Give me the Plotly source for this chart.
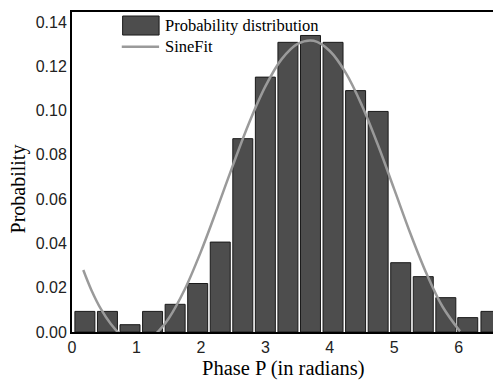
import plotly.graph_objects as go

# Histogram of phase (bin centres in radians) and probabilities
phase_bins = [0.20, 0.55, 0.90, 1.25, 1.60, 1.95, 2.30, 2.65, 3.00, 3.35,
              3.70, 4.05, 4.40, 4.75, 5.10, 5.45, 5.80, 6.14, 6.50]
probability = [0.0093, 0.0093, 0.0033, 0.0093, 0.0125, 0.0219, 0.0406, 0.0873,
               0.1151, 0.1308, 0.1339, 0.1308, 0.1090, 0.0996, 0.0313, 0.0250,
               0.0155, 0.0065, 0.0093]

# Sine fit curve
fit_x = [0.175, 0.3, 0.45, 0.6, 0.75, 0.9, 1.05, 1.2, 1.35, 1.5, 1.75, 2.0,
         2.25, 2.5, 2.75, 3.0, 3.25, 3.5, 3.75, 4.0, 4.25, 4.5, 4.75, 5.0,
         5.25, 5.5, 5.75, 6.02]
fit_y = [0.0280, 0.0190, 0.0103, 0.0037, -0.0011, -0.0038, -0.0045, -0.0029,
         0.0006, 0.0061, 0.0193, 0.0363, 0.0556, 0.0756, 0.0946, 0.1109,
         0.1231, 0.1301, 0.1315, 0.1269, 0.1169, 0.1022, 0.0842, 0.0644,
         0.0445, 0.0264, 0.0114, 0.0003]

y_ticks = [0.00, 0.02, 0.04, 0.06, 0.08, 0.10, 0.12, 0.14]
x_ticks = [0, 1, 2, 3, 4, 5, 6]

serif = "Liberation Serif, Times New Roman, serif"
sans = "Liberation Sans, Arial, sans-serif"

fig = go.Figure()
fig.add_trace(go.Bar(
    x=phase_bins, y=probability, width=0.31,
    marker=dict(color="#4d4d4d", line=dict(color="#1a1a1a", width=1)),
    name="Probability distribution", showlegend=False,
))
fig.add_trace(go.Scatter(
    x=fit_x, y=fit_y, mode="lines", line=dict(color="#9a9a9a", width=2.5, shape="spline"),
    name="SineFit", showlegend=False,
))

# custom legend
fig.add_shape(type="rect", xref="paper", yref="paper", x0=0.118, x1=0.203, y0=0.928, y1=0.9875,
              fillcolor="#4d4d4d", line=dict(color="#1a1a1a", width=1))
fig.add_shape(type="line", xref="paper", yref="paper", x0=0.116, x1=0.203, y0=0.8916, y1=0.8916,
              line=dict(color="#9a9a9a", width=2.5))
fig.add_annotation(xref="paper", yref="paper", x=0.212, y=0.958, xanchor="left", yanchor="middle",
                   text="Probability distribution", showarrow=False,
                   font=dict(family=serif, size=16.5, color="black"))
fig.add_annotation(xref="paper", yref="paper", x=0.212, y=0.892, xanchor="left", yanchor="middle",
                   text="SineFit", showarrow=False,
                   font=dict(family=serif, size=16.5, color="black"))

# axis titles
fig.add_annotation(xref="paper", yref="paper", x=0.494, y=-0.114, xanchor="center", yanchor="middle",
                   text="Phase P (in radians)", showarrow=False,
                   font=dict(family=serif, size=20.5, color="black"))
fig.add_annotation(xref="paper", yref="paper", x=-0.1247, y=0.447, xanchor="center", yanchor="middle",
                   text="Probability", showarrow=False, textangle=-90,
                   font=dict(family=serif, size=20, color="black"))

fig.update_layout(
    width=493, height=373,
    margin=dict(l=64, r=0, t=4, b=49),
    paper_bgcolor="white", plot_bgcolor="white",
    xaxis=dict(range=[0, 6.656], tickvals=x_ticks, ticks="", showgrid=False, zeroline=False,
               showline=True, linecolor="black", linewidth=2, mirror=True,
               tickfont=dict(family=sans, size=16, color="#222")),
    yaxis=dict(range=[0, 0.1445], tickvals=y_ticks, tickformat=".2f", ticks="", showgrid=False,
               zeroline=False, showline=True, linecolor="black", linewidth=2,
               tickfont=dict(family=sans, size=16, color="#222")),
)

fig.write_html("out.html")
